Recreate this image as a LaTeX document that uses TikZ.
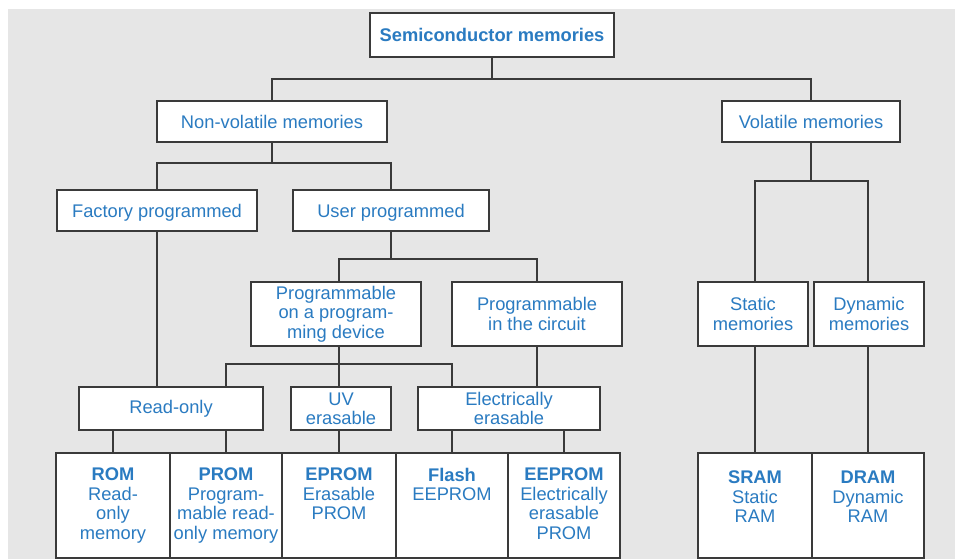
\documentclass[tikz,border=0pt]{standalone}
\usepackage{fontspec}
\setmainfont{Liberation Sans}
\definecolor{txtblue}{HTML}{2A7BC1}
\definecolor{linegray}{HTML}{3A3A3A}
\definecolor{bggray}{HTML}{E6E6E6}
\begin{document}
\begin{tikzpicture}[x=1pt,y=-1pt,
  box/.style={draw=linegray, line width=2pt, fill=white, inner sep=0pt,
    text=txtblue, font=\fontsize{18.3}{19.3}\selectfont, align=center},
  onebox/.style={box, text height=13.2pt, text depth=0pt, minimum height=41pt},
  midbox/.style={box, minimum height=64pt},
  lowbox/.style={box, minimum height=43pt},
  botbox/.style={box, minimum height=105pt},
  bottxt/.style={anchor=north, inner sep=0pt, text=txtblue,
    font=\fontsize{18.3}{19.4}\selectfont, align=center},
  link/.style={draw=linegray, line width=2pt}
]
\useasboundingbox (0,0) rectangle (955,559);
\fill[bggray] (8,9) rectangle (955,559);

% bus levels of the tree
\coordinate (b1) at (0,79);
\coordinate (b2) at (0,163);
\coordinate (b3) at (0,181);
\coordinate (b4) at (0,259);
\coordinate (b5) at (0,364);

% upper levels
\node[onebox, minimum width=244pt, minimum height=44pt] (semi) at (492,35) {\textbf{Semiconductor memories}};
\node[onebox, minimum width=230pt] (nonvol) at (272,121.5) {Non-volatile memories};
\node[onebox, minimum width=178pt] (vol) at (811,121.5) {Volatile memories};
\node[onebox, minimum width=200pt] (factory) at (157,210.5) {Factory programmed};
\node[onebox, minimum width=196pt] (user) at (391,210.5) {User programmed};
\node[midbox, minimum width=170pt] (progdev) at (336,314) {Programmable\\on a program-\\ming device};
\node[midbox, minimum width=170pt] (progcirc) at (537,314) {Programmable\\in the circuit};
\node[midbox, minimum width=110pt] (static) at (753,314) {Static\\memories};
\node[midbox, minimum width=110pt] (dynamic) at (869,314) {Dynamic\\memories};
\node[lowbox, minimum width=184pt] (readonly) at (171,408.5) {Read-only};
\node[lowbox, minimum width=100pt] (uv) at (341,408.5) {UV\\erasable};
\node[lowbox, minimum width=182pt] (elec) at (509,408.5) {Electrically\\erasable};

% memory types
\node[botbox, minimum width=114pt] (rom) at (113,505.5) {};
\node[botbox, minimum width=112pt] (prom) at (226,505.5) {};
\node[botbox, minimum width=114pt] (eprom) at (339,505.5) {};
\node[botbox, minimum width=112pt] (flash) at (452,505.5) {};
\node[botbox, minimum width=112pt] (eeprom) at (564,505.5) {};
\node[botbox, minimum width=114pt] (sram) at (755,505.5) {};
\node[botbox, minimum width=112pt] (dram) at (868,505.5) {};

\node[bottxt] at ([yshift=-16pt]rom.north) {\textbf{ROM}\\Read-\\only\\memory};
\node[bottxt] at ([yshift=-16pt]prom.north) {\textbf{PROM}\\Program-\\mable read-\\only memory};
\node[bottxt] at ([yshift=-16pt]eprom.north) {\textbf{EPROM}\\Erasable\\PROM};
\node[bottxt] at ([yshift=-16pt]flash.north) {\textbf{Flash}\\EEPROM};
\node[bottxt] at ([yshift=-16pt]eeprom.north) {\textbf{EEPROM}\\Electrically\\erasable\\PROM};
\node[bottxt] at ([yshift=-19pt]sram.north) {\textbf{SRAM}\\Static\\RAM};
\node[bottxt] at ([yshift=-19pt]dram.north) {\textbf{DRAM}\\Dynamic\\RAM};

% connectors
\draw[link] (semi.south) -- (semi.south |- b1);
\draw[link] (nonvol.north) |- (vol.north |- b1) -- (vol.north);
\draw[link] (nonvol.south) -- (nonvol.south |- b2);
\draw[link] (factory.north) |- (user.north |- b2) -- (user.north);
\draw[link] (vol.south) -- (vol.south |- b3);
\draw[link] (sram.north |- static.north) |- (dram.north |- b3) -- (dram.north |- dynamic.north);
\draw[link] (user.south) -- (user.south |- b4);
\draw[link] (eprom.north |- progdev.north) |- (progcirc.north |- b4) -- (progcirc.north);
\draw[link] (eprom.north |- progdev.south) -- (eprom.north |- uv.north);
\draw[link] (prom.north |- readonly.north) |- (flash.north |- b5) -- (flash.north |- elec.north);
\draw[link] (factory.south) -- (factory.south |- readonly.north);
\draw[link] (progcirc.south) -- (progcirc.south |- elec.north);
\draw[link] (rom.north) -- (rom.north |- readonly.south);
\draw[link] (prom.north) -- (prom.north |- readonly.south);
\draw[link] (eprom.north) -- (eprom.north |- uv.south);
\draw[link] (flash.north) -- (flash.north |- elec.south);
\draw[link] (eeprom.north) -- (eeprom.north |- elec.south);
\draw[link] (sram.north) -- (sram.north |- static.south);
\draw[link] (dram.north) -- (dram.north |- dynamic.south);
\end{tikzpicture}
\end{document}
